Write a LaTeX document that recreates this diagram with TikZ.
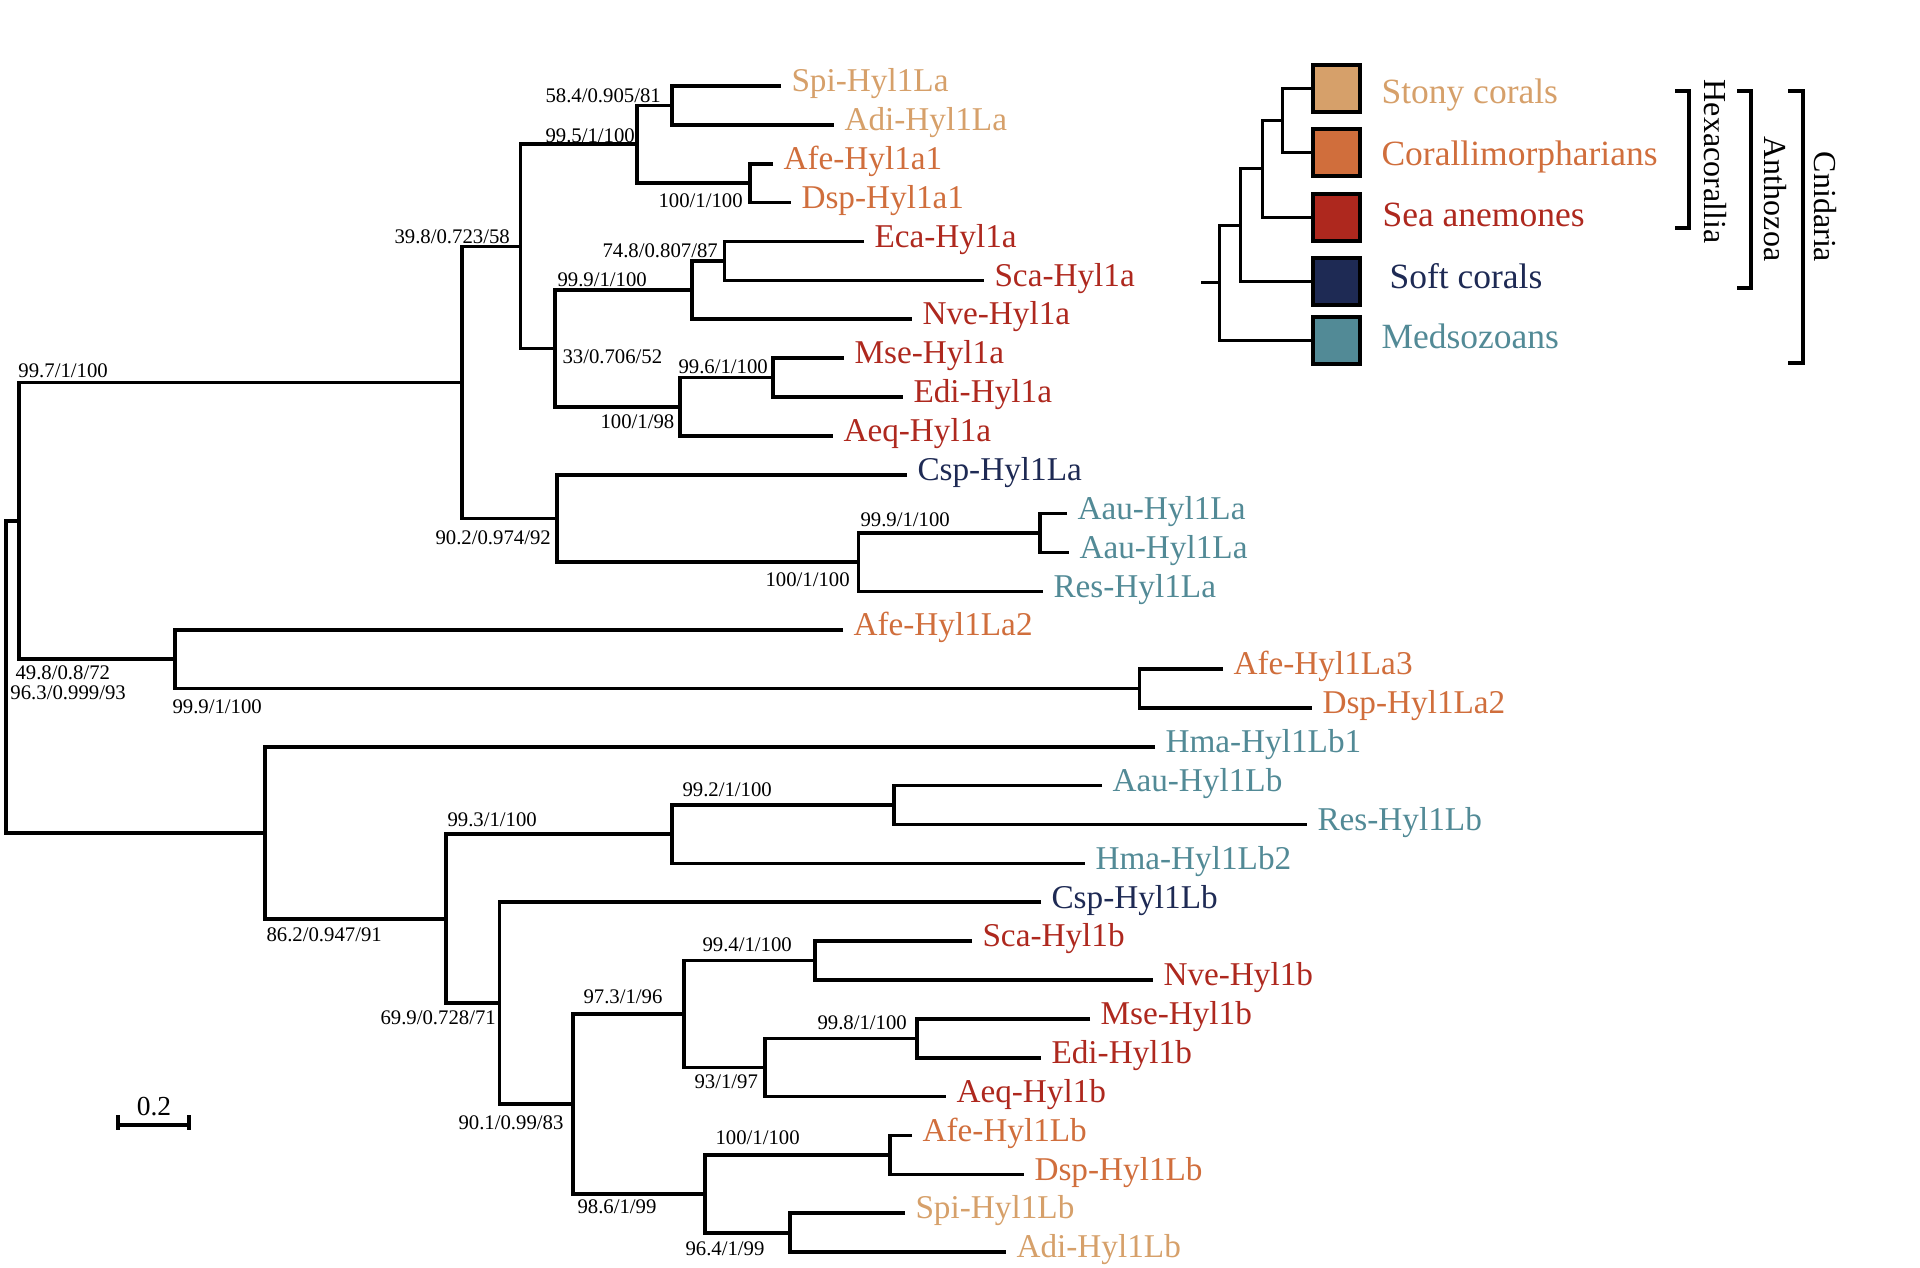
\documentclass[tikz,border=0pt]{standalone}
\usepackage{fontspec}
\setmainfont{Liberation Serif}
\definecolor{stony}{RGB}{214,160,106}
\definecolor{coral}{RGB}{208,110,60}
\definecolor{anem}{RGB}{174,40,30}
\definecolor{soft}{RGB}{30,42,84}
\definecolor{medu}{RGB}{82,138,150}
\begin{document}
\begin{tikzpicture}[x=0.4pt,y=-0.4pt,
  branch/.style={line width=1.45pt, line cap=butt, line join=miter},
  legline/.style={line width=1.2pt, line join=miter},
  leaf/.style={anchor=mid west, inner xsep=4pt, inner ysep=0pt, font=\fontsize{13.3}{15}\selectfont},
  boot/.style={anchor=west, inner sep=0pt, font=\fontsize{8.3}{9}\selectfont},
  legbox/.style={draw, line width=1.6pt, minimum width=18.8pt, minimum height=18.8pt, inner sep=0pt},
  legtext/.style={anchor=base west, inner sep=0pt, font=\fontsize{14.2}{16}\selectfont},
  cladetext/.style={rotate=-90, inner sep=0pt, font=\fontsize{12.8}{14}\selectfont}]
\useasboundingbox (0,0) rectangle (1920,1267);

% ---------- leaves ----------
\foreach \i/\x/\c/\t in {
 0/781/stony/Spi-Hyl1La, 1/834/stony/Adi-Hyl1La, 2/773/coral/Afe-Hyl1a1, 3/791/coral/Dsp-Hyl1a1,
 4/864/anem/Eca-Hyl1a, 5/984/anem/Sca-Hyl1a, 6/912/anem/Nve-Hyl1a, 7/844/anem/Mse-Hyl1a,
 8/903/anem/Edi-Hyl1a, 9/833/anem/Aeq-Hyl1a, 10/907/soft/Csp-Hyl1La, 11/1067/medu/Aau-Hyl1La,
 12/1069/medu/Aau-Hyl1La, 13/1043/medu/Res-Hyl1La, 14/843/coral/Afe-Hyl1La2, 15/1223/coral/Afe-Hyl1La3,
 16/1312/coral/Dsp-Hyl1La2, 17/1155/medu/Hma-Hyl1Lb1, 18/1102/medu/Aau-Hyl1Lb, 19/1307/medu/Res-Hyl1Lb,
 20/1085/medu/Hma-Hyl1Lb2, 21/1041/soft/Csp-Hyl1Lb, 22/972/anem/Sca-Hyl1b, 23/1153/anem/Nve-Hyl1b,
 24/1090/anem/Mse-Hyl1b, 25/1041/anem/Edi-Hyl1b, 26/946/anem/Aeq-Hyl1b, 27/912/coral/Afe-Hyl1Lb,
 28/1024/coral/Dsp-Hyl1Lb, 29/905/stony/Spi-Hyl1Lb, 30/1006/stony/Adi-Hyl1Lb}{
  \coordinate (e\i) at (\x,{86+\i*38.87});
  \node[leaf,text=\c] (t\i) at (e\i) {\t};
}

% ---------- internal nodes ----------
\coordinate (A)  at (672,105.4);
\coordinate (AD) at (750,183.2);
\coordinate (B)  at (637,144.3);
\coordinate (H)  at (724.5,260.9);
\coordinate (G)  at (692,290.05);
\coordinate (J)  at (773,377.5);
\coordinate (I)  at (680,406.7);
\coordinate (F)  at (555,348.4);
\coordinate (C)  at (520.5,246.35);
\coordinate (L2) at (1040,533);
\coordinate (L)  at (858.5,562.15);
\coordinate (K)  at (557,518.4);
\coordinate (D)  at (462,382.4);
\coordinate (M3) at (1139.5,688.5);
\coordinate (M)  at (175,659.3);
\coordinate (E)  at (19,520.85);
\coordinate (Q)  at (894,805.1);
\coordinate (P)  at (672,834.25);
\coordinate (U)  at (815,960.6);
\coordinate (W)  at (917,1038.3);
\coordinate (V)  at (765,1067.45);
\coordinate (T)  at (684,1014.0);
\coordinate (Y)  at (890,1154.9);
\coordinate (Z)  at (790,1232.7);
\coordinate (X)  at (705,1193.8);
\coordinate (S)  at (573,1103.9);
\coordinate (R)  at (499.5,1003.1);
\coordinate (O)  at (446,918.7);
\coordinate (N)  at (265,832.7);
\coordinate (root) at (6,676.8);

% ---------- branches ----------
\draw[branch] (e0) -| (A) |- (e1);
\draw[branch] (e2) -| (AD) |- (e3);
\draw[branch] (A) -| (B) |- (AD);
\draw[branch] (e4) -| (H) |- (e5);
\draw[branch] (H) -| (G) |- (e6);
\draw[branch] (e7) -| (J) |- (e8);
\draw[branch] (J) -| (I) |- (e9);
\draw[branch] (G) -| (F) |- (I);
\draw[branch] (B) -| (C) |- (F);
\draw[branch] (e11) -| (L2) |- (e12);
\draw[branch] (L2) -| (L) |- (e13);
\draw[branch] (e10) -| (K) |- (L);
\draw[branch] (C) -| (D) |- (K);
\draw[branch] (e15) -| (M3) |- (e16);
\draw[branch] (e14) -| (M) |- (M3);
\draw[branch] (D) -| (E) |- (M);
\draw[branch] (e18) -| (Q) |- (e19);
\draw[branch] (Q) -| (P) |- (e20);
\draw[branch] (e22) -| (U) |- (e23);
\draw[branch] (e24) -| (W) |- (e25);
\draw[branch] (W) -| (V) |- (e26);
\draw[branch] (U) -| (T) |- (V);
\draw[branch] (e27) -| (Y) |- (e28);
\draw[branch] (e29) -| (Z) |- (e30);
\draw[branch] (Y) -| (X) |- (Z);
\draw[branch] (T) -| (S) |- (X);
\draw[branch] (e21) -| (R) |- (S);
\draw[branch] (P) -| (O) |- (R);
\draw[branch] (e17) -| (N) |- (O);
\draw[branch] (E) -| (root) |- (N);

% ---------- support values ----------
\node[boot] (s1)  at (545,96)    {58.4/0.905/81};
\node[boot] (s2)  at (545,136)   {99.5/1/100};
\node[boot] (s3)  at (658,201)   {100/1/100};
\node[boot] (s4)  at (394,237)   {39.8/0.723/58};
\node[boot] (s5)  at (602,251)   {74.8/0.807/87};
\node[boot] (s6)  at (557,280)   {99.9/1/100};
\node[boot] (s7)  at (562,357)   {33/0.706/52};
\node[boot] (s8)  at (678,367)   {99.6/1/100};
\node[boot] (s9)  at (600,422)   {100/1/98};
\node[boot] (s10) at (18,371)    {99.7/1/100};
\node[boot] (s11) at (435,538)   {90.2/0.974/92};
\node[boot] (s12) at (860,520)   {99.9/1/100};
\node[boot] (s13) at (765,580)   {100/1/100};
\node[boot] (s14) at (15,673)    {49.8/0.8/72};
\node[boot] (s15) at (10,693)    {96.3/0.999/93};
\node[boot] (s16) at (172,707)   {99.9/1/100};
\node[boot] (s17) at (682,790)   {99.2/1/100};
\node[boot] (s18) at (447,820)   {99.3/1/100};
\node[boot] (s19) at (266,935)   {86.2/0.947/91};
\node[boot] (s20) at (702,945)   {99.4/1/100};
\node[boot] (s21) at (583,997)   {97.3/1/96};
\node[boot] (s22) at (380,1018)  {69.9/0.728/71};
\node[boot] (s23) at (817,1023)  {99.8/1/100};
\node[boot] (s24) at (694,1082)  {93/1/97};
\node[boot] (s25) at (458,1123)  {90.1/0.99/83};
\node[boot] (s26) at (715,1138)  {100/1/100};
\node[boot] (s27) at (577,1207)  {98.6/1/99};
\node[boot] (s28) at (685,1249)  {96.4/1/99};

% ---------- scale bar ----------
\coordinate (sbL) at (118,1125);
\coordinate (sbR) at (189,1125);
\draw[branch] (sbL) -- (sbR);
\draw[branch] ([yshift=4pt]sbL) -- ([yshift=-2pt]sbL);
\draw[branch] ([yshift=4pt]sbR) -- ([yshift=-2pt]sbR);
\node[inner sep=0pt, font=\fontsize{11}{12}\selectfont] (sbt) at (154,1107) {0.2};

% ---------- legend ----------
\node[legbox, fill=stony] (b1) at (1336.5,88) {};
\node[legbox, fill=coral] (b2) at (1336.5,152) {};
\node[legbox, fill=anem]  (b3) at (1336.5,217) {};
\node[legbox, fill=soft]  (b4) at (1336.5,281.5) {};
\node[legbox, fill=medu]  (b5) at (1336.5,340) {};
\coordinate (ln1) at (1282,120);
\coordinate (ln2) at (1262,168.5);
\coordinate (ln3) at (1240,225);
\coordinate (ln4) at (1219,282.5);
\coordinate (legroot) at (1201,282.5);
\draw[legline] (b1.west) -| (ln1) |- (b2.west);
\draw[legline] (ln1) -| (ln2) |- (b3.west);
\draw[legline] (ln2) -| (ln3) |- (b4.west);
\draw[legline] (ln3) -| (ln4) |- (b5.west);
\draw[legline] (legroot) -- (ln4);
\node[legtext, text=stony] (g1) at (1381,103) {Stony corals};
\node[legtext, text=coral] (g2) at (1381,165) {Corallimorpharians};
\node[legtext, text=anem]  (g3) at (1382,226) {Sea anemones};
\node[legtext, text=soft]  (g4) at (1389,288) {Soft corals};
\node[legtext, text=medu]  (g5) at (1381,348) {Medsozoans};

% ---------- clade brackets ----------
\coordinate (hxT) at (1689,91);   \coordinate (hxB) at (1689,228);
\coordinate (anT) at (1751,91);   \coordinate (anB) at (1751,288);
\coordinate (cnT) at (1803,91);   \coordinate (cnB) at (1803,363);
\draw[branch] ([xshift=-5.6pt]hxT) -- (hxT) -- (hxB) -- ([xshift=-5.6pt]hxB);
\draw[branch] ([xshift=-5.6pt]anT) -- (anT) -- (anB) -- ([xshift=-5.6pt]anB);
\draw[branch] ([xshift=-6pt]cnT) -- (cnT) -- (cnB) -- ([xshift=-6pt]cnB);
\node[cladetext] (hexa) at (1715,161.5) {Hexacorallia};
\node[cladetext] (anth) at (1775,199) {Anthozoa};
\node[cladetext] (cnid) at (1825,207) {Cnidaria};
\end{tikzpicture}
\end{document}
